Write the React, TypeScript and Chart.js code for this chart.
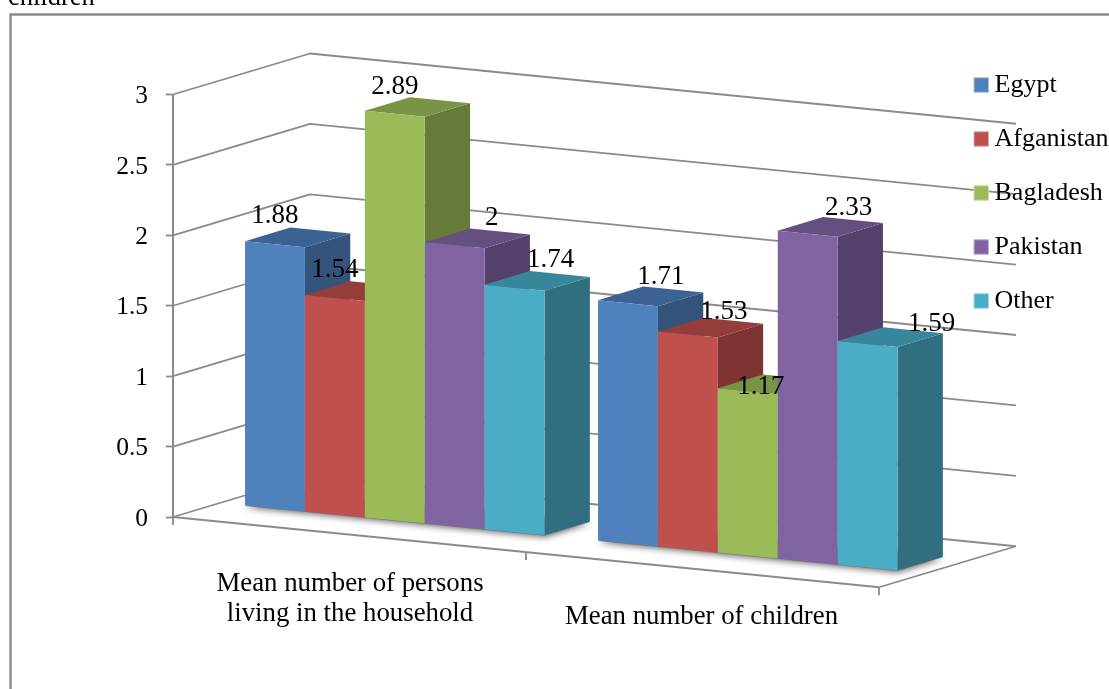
import React, { useEffect, useRef } from "react";
import { Chart, registerables } from "chart.js";

Chart.register(...registerables);

const categories = [
  ["Mean number of persons", "living in the household"],
  "Mean number of children",
];
const seriesNames = ["Egypt", "Afganistan", "Bagladesh", "Pakistan", "Other"];
const egypt = [1.88, 1.71];
const afganistan = [1.54, 1.53];
const bagladesh = [2.89, 1.17];
const pakistan = [2, 2.33];
const other = [1.74, 1.59];
const yTicks = [0, 0.5, 1, 1.5, 2, 2.5, 3];

const frontColors = ["#4F81BD", "#C0504D", "#9BBB59", "#8064A2", "#4BACC6"];
const sideColors = ["#34547C", "#7E3432", "#667B3A", "#54416B", "#316F80"];
const topColors = ["#3A6293", "#943D3A", "#7A9447", "#654F80", "#38869B"];
const legendEdges = ["#A7C0DE", "#DFA8A6", "#CDDDAC", "#BFB1D0", "#A5D5E2"];

// Offsets of the value labels from the middle of each bar's front top edge.
const labelShifts = [
  [[0, -28], [33, -26]],
  [[0, -28], [36, -23]],
  [[0, -27], [13, -4]],
  [[37, -27], [41, -26]],
  [[36, -28], [64, -20]],
];

const FONT = '"Liberation Serif", "Times New Roman", serif';
const LINE = "#8A8A8A";

// Oblique projection: floor runs down to the right, depth runs up to the right.
const SLOPE = 0.0995;
const FLOOR_DEPTH = { x: 137, y: -41 };
const BAR_DEPTH = { x: 45.3, y: -13.7 };

function drawShadows(chart: any) {
  // Soft shadow of each bar group on the floor
  const { ctx, chartArea: a } = chart;
  const first = chart.getDatasetMeta(0).data;
  const last = chart.getDatasetMeta(seriesNames.length - 1).data;
  const width = a.right - a.left;
  const floorY = (x: number) => a.bottom + (x - a.left) * SLOPE;
  ctx.save();
  ctx.beginPath();
  ctx.moveTo(a.left, a.bottom);
  ctx.lineTo(a.right, a.bottom + width * SLOPE);
  ctx.lineTo(a.right + FLOOR_DEPTH.x, a.bottom + width * SLOPE + FLOOR_DEPTH.y);
  ctx.lineTo(a.left + FLOOR_DEPTH.x, a.bottom + FLOOR_DEPTH.y);
  ctx.closePath();
  ctx.clip();
  first.forEach((bar: any, i: number) => {
    const xl = bar.x - bar.width / 2;
    const xr = last[i].x + last[i].width / 2;
    const yl = floorY(xl) + BAR_DEPTH.y;
    const yr = floorY(xr) + BAR_DEPTH.y;
    const lx = xl + BAR_DEPTH.x;
    const rx = xr + BAR_DEPTH.x;
    ctx.beginPath();
    ctx.moveTo(lx, yl);
    ctx.lineTo(rx, yr);
    ctx.lineTo(rx + BAR_DEPTH.x, yr + BAR_DEPTH.y);
    ctx.lineTo(lx + BAR_DEPTH.x, yl + BAR_DEPTH.y);
    ctx.closePath();
    ctx.shadowColor = "rgba(0,0,0,0.65)";
    ctx.shadowBlur = 7;
    ctx.shadowOffsetY = 1;
    ctx.fillStyle = "#777";
    ctx.fill();
  });
  ctx.restore();
}

function drawBoxes(chart: any) {
  // Left to right, so each bar's front hides the side of the one before it
  const { ctx, chartArea: a } = chart;
  const put = (x: number, y: number) => [
    x + BAR_DEPTH.x,
    y + (x - a.left) * SLOPE + BAR_DEPTH.y,
  ];
  const back = (p: number[]) => [p[0] + BAR_DEPTH.x, p[1] + BAR_DEPTH.y];
  const face = (pts: number[][], color: string) => {
    ctx.beginPath();
    pts.forEach((p, k) => (k ? ctx.lineTo(p[0], p[1]) : ctx.moveTo(p[0], p[1])));
    ctx.closePath();
    ctx.fillStyle = color;
    ctx.fill();
  };
  seriesNames.forEach((_, i) => {
    const meta = chart.getDatasetMeta(i);
    meta.data.forEach((bar: any) => {
      const xl = bar.x - bar.width / 2;
      const xr = bar.x + bar.width / 2;
      const tl = put(xl, bar.y);
      const tr = put(xr, bar.y);
      const br = put(xr, bar.base);
      face([tr, br, back(br), back(tr)], sideColors[i]);
      face([tl, tr, back(tr), back(tl)], topColors[i]);
    });
    // The bar elements themselves are painted on the skewed front plane
    ctx.save();
    ctx.transform(1, SLOPE, 0, 1, BAR_DEPTH.x, BAR_DEPTH.y - SLOPE * a.left);
    meta.controller.draw();
    ctx.restore();
  });
}

function drawLabels(chart: any) {
  const { ctx, chartArea: a } = chart;
  ctx.save();
  ctx.fillStyle = "#000";
  ctx.textAlign = "center";
  ctx.textBaseline = "middle";

  // Value labels
  ctx.font = `27px ${FONT}`;
  chart.data.datasets.forEach((ds: any, i: number) => {
    chart.getDatasetMeta(i).data.forEach((bar: any, j: number) => {
      const x = bar.x + BAR_DEPTH.x;
      const y = bar.y + (bar.x - a.left) * SLOPE + BAR_DEPTH.y;
      const [dx, dy] = labelShifts[i][j];
      ctx.fillText(String(ds.data[j]), x + dx, y + dy);
    });
  });

  // Category labels sit below the skewed axis
  ctx.font = `26.8px ${FONT}`;
  const xScale = chart.scales.x;
  categories.forEach((label, i) => {
    const x = xScale.getPixelForValue(i);
    const lines = Array.isArray(label) ? label : [label];
    const top = a.bottom + (x - a.left) * SLOPE + 39;
    lines.forEach((line, k) => {
      const cx = x + (i === 0 ? 0.5 : -1);
      ctx.fillText(line, cx, top + k * 30 + (i === 0 ? 10 : 8));
    });
  });
  ctx.restore();
}

const project3d = {
  id: "project3d",
  beforeDraw(chart: any) {
    const { ctx, chartArea: a } = chart;
    const yScale = chart.scales.y;
    ctx.save();
    ctx.strokeStyle = LINE;
    ctx.lineWidth = 2.4;
    // Outer frame
    ctx.beginPath();
    ctx.moveTo(10.5, 689);
    ctx.lineTo(10.5, 14.5);
    ctx.lineTo(1109, 14.5);
    ctx.stroke();
    ctx.fillStyle = "#000";
    ctx.font = `26.5px ${FONT}`;
    ctx.textBaseline = "alphabetic";
    ctx.textAlign = "left";
    ctx.fillText("children", 8, 5);

    // Side and back wall gridlines, one per tick
    const width = a.right - a.left;
    ctx.lineWidth = 1.8;
    ctx.lineJoin = "round";
    yTicks.forEach((t) => {
      const y = yScale.getPixelForValue(t);
      ctx.beginPath();
      ctx.moveTo(a.left, y);
      ctx.lineTo(a.left + FLOOR_DEPTH.x, y + FLOOR_DEPTH.y);
      ctx.lineTo(a.right + FLOOR_DEPTH.x, y + FLOOR_DEPTH.y + width * SLOPE);
      ctx.stroke();
    });

    // Front and right edges of the floor
    const frontRight = a.bottom + width * SLOPE;
    ctx.beginPath();
    ctx.moveTo(a.left, a.bottom);
    ctx.lineTo(a.right, frontRight);
    ctx.lineTo(a.right + FLOOR_DEPTH.x, frontRight + FLOOR_DEPTH.y);
    ctx.stroke();

    // Tick marks along the skewed category axis
    [a.left, (a.left + a.right) / 2, a.right].forEach((x) => {
      const y = a.bottom + (x - a.left) * SLOPE;
      ctx.beginPath();
      ctx.moveTo(x, y);
      ctx.lineTo(x, y + 8);
      ctx.stroke();
    });
    ctx.restore();
  },
  beforeDatasetsDraw(chart: any) {
    // Replaces the default back-to-front dataset pass
    drawShadows(chart);
    drawBoxes(chart);
    drawLabels(chart);
    return false;
  },
  afterLayout(chart: any) {
    // The legend floats over the back wall instead of taking up layout room
    const legend = chart.legend;
    const w = legend.width;
    const h = legend.height;
    legend.left = 953;
    legend.top = 44;
    legend.right = legend.left + w;
    legend.bottom = legend.top + h;
  },
};

export default function App() {
  const ref = useRef<HTMLCanvasElement>(null);

  useEffect(() => {
    const values = [egypt, afganistan, bagladesh, pakistan, other];
    const chart = new Chart(ref.current as HTMLCanvasElement, {
      type: "bar",
      data: {
        labels: categories as any,
        datasets: seriesNames.map((name, i) => ({
          label: name,
          data: values[i],
          backgroundColor: frontColors[i],
          borderWidth: 0,
          categoryPercentage: 0.8485,
          barPercentage: 1,
        })),
      },
      options: {
        animation: false,
        responsive: false,
        layout: {
          autoPadding: false,
          padding: { left: 0, top: 94.5, right: 230, bottom: 172 },
        },
        scales: {
          x: {
            grid: { display: false },
            border: { display: false },
            ticks: { display: false },
            afterFit: (s: any) => {
              s.height = 0;
            },
          },
          y: {
            min: 0,
            max: 3,
            afterBuildTicks: (s: any) => {
              s.ticks = yTicks.map((value) => ({ value }));
            },
            afterFit: (s: any) => {
              s.width = 173;
            },
            border: { display: true, color: LINE, width: 2 },
            grid: {
              drawOnChartArea: false,
              drawTicks: true,
              tickLength: 7,
              tickColor: LINE,
              tickWidth: 1.8,
            },
            ticks: {
              padding: 18,
              labelOffset: 2,
              color: "#000",
              font: { family: FONT, size: 25.5 },
              callback: (v: any) => String(v),
            },
          },
        },
        plugins: {
          tooltip: { enabled: false },
          legend: {
            position: "chartArea" as any,
            align: "start",
            labels: {
              color: "#000",
              font: { family: FONT, size: 26 },
              padding: 28,
              usePointStyle: true,
              pointStyle: "rect",
              boxWidth: 0.5,
              boxHeight: 14.5,
              generateLabels: (c: any) =>
                Chart.defaults.plugins.legend.labels
                  .generateLabels(c)
                  .map((item: any, i: number) => ({
                    ...item,
                    lineWidth: 1,
                    strokeStyle: legendEdges[i],
                  })),
            },
          },
        },
      },
      plugins: [project3d],
    } as any);
    return () => chart.destroy();
  }, []);

  return (
    <canvas
      ref={ref}
      width={1109}
      height={689}
      style={{ position: "absolute", left: 0, top: 0, display: "block" }}
    />
  );
}
